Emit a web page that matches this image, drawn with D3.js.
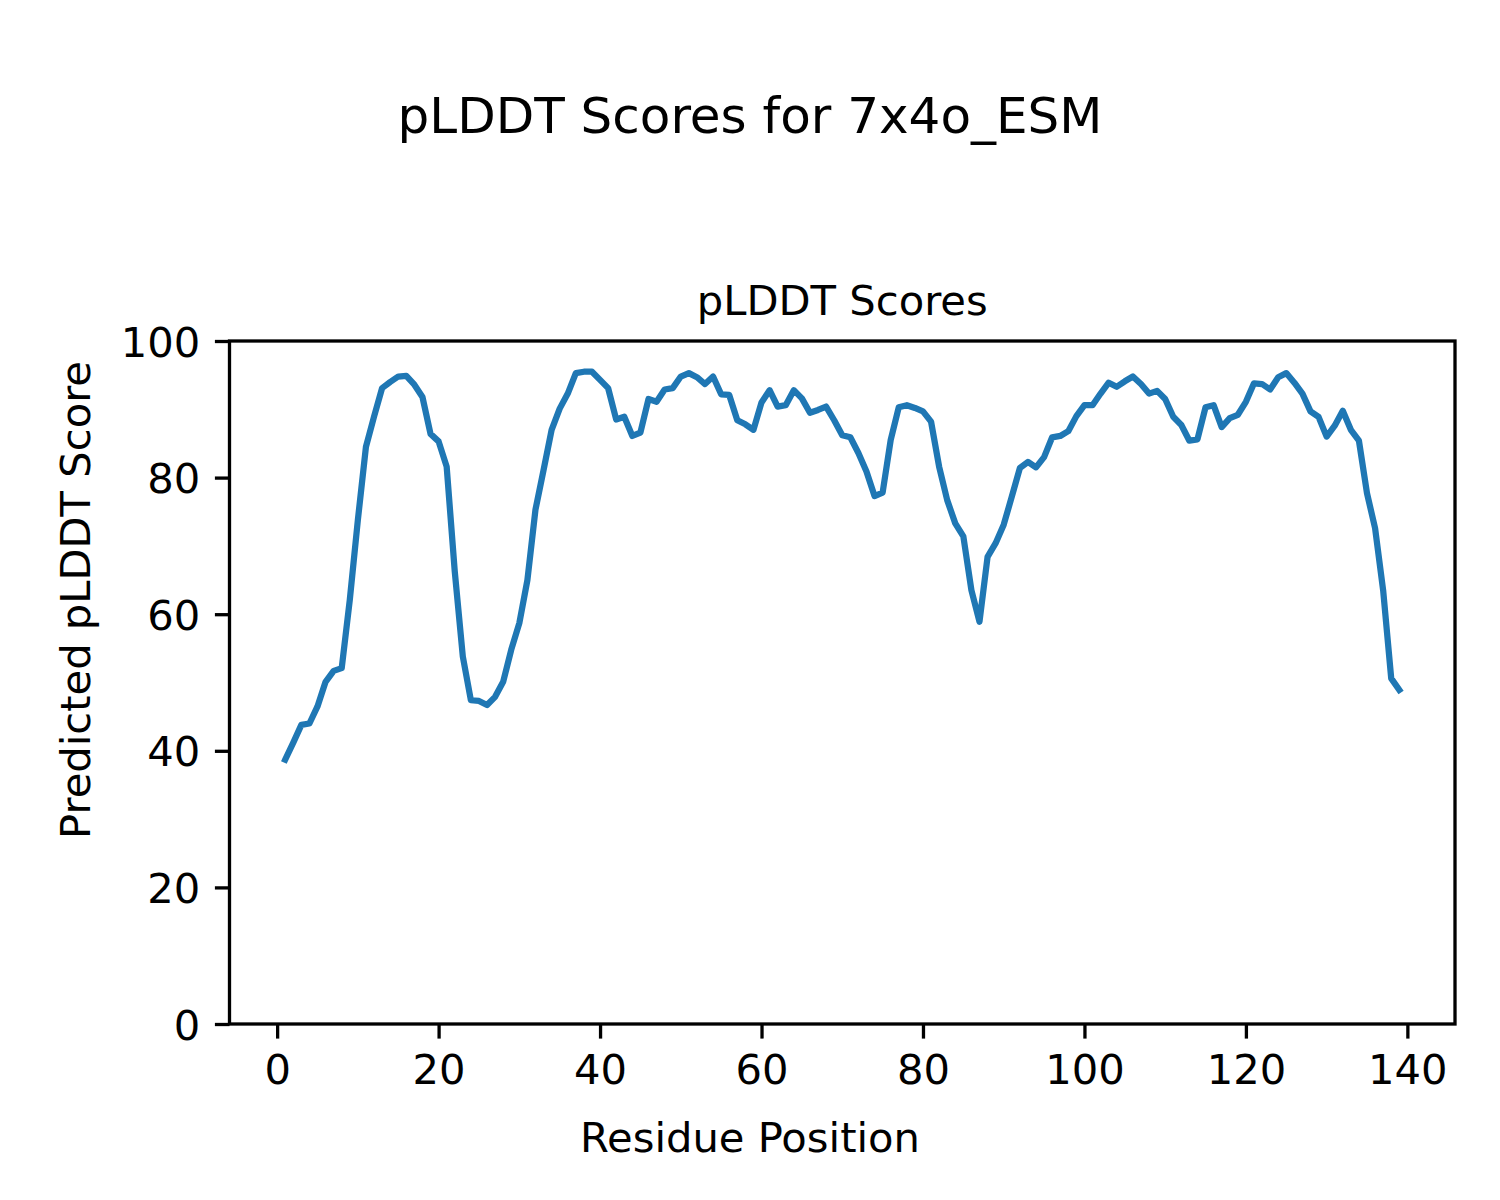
<!DOCTYPE html>
<html>
<head>
<meta charset="utf-8">
<script src="https://cdn.jsdelivr.net/npm/d3@7"></script>
<style>
  html, body { margin: 0; padding: 0; background: #fff; }
  svg { display: block; }
  text { font-family: "DejaVu Sans", sans-serif; fill: #000; }
</style>
</head>
<body>
<svg id="chart" width="1500" height="1200"></svg>
<script>
// ---- data ----
const residues = d3.range(1, 140); // residue positions 1..139
const plddt = [
  38.7, 41.2, 43.8, 44.0, 46.5, 50.1, 51.7, 52.1, 62.1, 73.8,
  84.5, 88.9, 93.1, 94.0, 94.8, 94.9, 93.6, 91.8, 86.4, 85.3,
  81.6, 66.3, 53.8, 47.4, 47.3, 46.7, 47.9, 50.1, 54.8, 58.7,
  65.0, 75.3, 81.1, 87.0, 90.1, 92.3, 95.3, 95.5, 95.5, 94.3,
  93.1, 88.5, 88.9, 86.1, 86.6, 91.5, 91.1, 92.9, 93.1, 94.8,
  95.3, 94.7, 93.7, 94.8, 92.2, 92.1, 88.4, 87.8, 87.0, 91.0,
  92.8, 90.4, 90.6, 92.8, 91.6, 89.5, 89.9, 90.4, 88.4, 86.2,
  85.9, 83.6, 80.9, 77.3, 77.8, 85.5, 90.3, 90.6, 90.2, 89.7,
  88.2, 81.6, 76.7, 73.3, 71.4, 63.5, 58.9, 68.4, 70.4, 73.1,
  77.2, 81.4, 82.3, 81.5, 83.0, 85.9, 86.1, 86.8, 89.0, 90.6,
  90.6, 92.3, 93.9, 93.3, 94.1, 94.8, 93.7, 92.3, 92.7, 91.5,
  88.9, 87.7, 85.4, 85.6, 90.3, 90.6, 87.4, 88.7, 89.2, 91.1,
  93.8, 93.7, 92.9, 94.7, 95.3, 93.9, 92.3, 89.7, 88.9, 86.0,
  87.6, 89.8, 87.0, 85.4, 77.7, 72.6, 63.5, 50.6, 48.9
];
const xTicks = [0, 20, 40, 60, 80, 100, 120, 140];
const yTicks = [0, 20, 40, 60, 80, 100];

const figTitle = "pLDDT Scores for 7x4o_ESM";
const axTitle = "pLDDT Scores";
const xLabel = "Residue Position";
const yLabel = "Predicted pLDDT Score";

// ---- layout ----
const W = 1500, H = 1200;
const axL = 229.5, axR = 1455, axT = 341, axB = 1024;
const fontPx = 41.67;
const tickLen = 14.6, tickPad = 14.6;

const svg = d3.select("#chart");

const xMin = d3.min(residues), xMax = d3.max(residues);
const xm = (xMax - xMin) * 0.05;
const x = d3.scaleLinear().domain([xMin - xm, xMax + xm]).range([axL, axR]);
const y = d3.scaleLinear().domain([0, 100]).range([axB, axT]);

// line
const line = d3.line().x((d, i) => x(residues[i])).y(d => y(d));
svg.append("path")
  .datum(plddt)
  .attr("d", line)
  .attr("fill", "none")
  .attr("stroke", "#1f77b4")
  .attr("stroke-width", 6.25)
  .attr("stroke-linejoin", "round")
  .attr("stroke-linecap", "square");

// axes
const xAxis = d3.axisBottom(x).tickValues(xTicks).tickSize(tickLen).tickPadding(tickPad).tickFormat(d3.format("d"));
const yAxis = d3.axisLeft(y).tickValues(yTicks).tickSize(tickLen).tickPadding(tickPad).tickFormat(d3.format("d"));

const gx = svg.append("g").attr("transform", `translate(0,${axB})`).call(xAxis);
const gy = svg.append("g").attr("transform", `translate(${axL},0)`).call(yAxis);
[gx, gy].forEach(g => {
  g.select(".domain").remove();
  g.selectAll(".tick line").attr("stroke", "#000").attr("stroke-width", 3.3);
  g.selectAll(".tick text").attr("font-size", fontPx).attr("fill", "#000")
    .style("font-family", '"DejaVu Sans", sans-serif');
});
gx.selectAll(".tick text").attr("dy", "0.75em");
gy.selectAll(".tick text").attr("dy", "0.36em");

// spines
svg.append("rect")
  .attr("x", axL).attr("y", axT)
  .attr("width", axR - axL).attr("height", axB - axT)
  .attr("fill", "none").attr("stroke", "#000").attr("stroke-width", 3.3);

// titles
svg.append("text").attr("x", 750).attr("y", 133)
  .attr("text-anchor", "middle").attr("font-size", 50).text(figTitle);
svg.append("text").attr("x", (axL + axR) / 2).attr("y", 315)
  .attr("text-anchor", "middle").attr("font-size", fontPx).text(axTitle);
svg.append("text").attr("x", 750).attr("y", 1152)
  .attr("text-anchor", "middle").attr("font-size", fontPx).text(xLabel);
svg.append("text")
  .attr("transform", "translate(90,600) rotate(-90)")
  .attr("text-anchor", "middle").attr("font-size", fontPx).text(yLabel);
</script>
</body>
</html>
